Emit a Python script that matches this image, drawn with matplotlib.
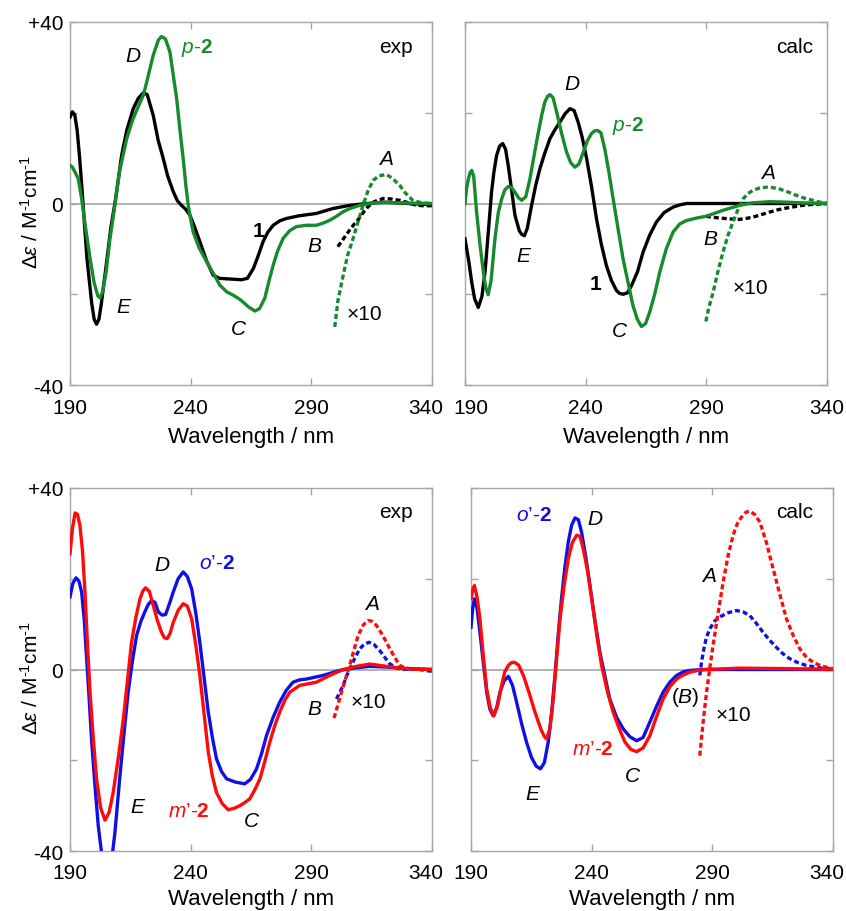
import matplotlib
matplotlib.use('Agg')
import matplotlib.pyplot as plt
from matplotlib.transforms import ScaledTranslation

plt.rcParams['font.family'] = ['Liberation Sans', 'DejaVu Sans']
plt.rcParams['mathtext.fontset'] = 'custom'
plt.rcParams['mathtext.rm'] = 'Liberation Sans'
plt.rcParams['mathtext.it'] = 'Liberation Sans:italic'
plt.rcParams['mathtext.bf'] = 'Liberation Sans:bold'

GREEN = '#168a2c'
BLACK = '#000000'
RED = '#ff0a0a'
BLUE = '#1010e6'
GRAY = '#a6a6a6'

# ---------------- data: top-left (exp, 1 and p-2) ----------------
exp1_x = [190, 191, 192, 193, 194, 195, 197, 199, 200, 201, 202, 203, 205, 207, 208.6, 209.3, 211.4, 213.5, 216.2,
          218.3, 220.4, 222, 224.5, 226.5, 228.6, 230.5, 232.8, 234.5, 236.2, 238, 239.7, 241.5, 243.8, 246.5, 249.3,
          252, 255, 258, 261, 263.5, 266, 268, 270, 272, 274.2, 277, 279.7, 285, 292, 299, 306, 313, 320, 327, 333, 340]
exp1_y = [19, 20.2, 19.5, 16, 10, 3, -12, -22, -25.5, -26.6, -25.5, -22, -13.6, -5, 0, 2.6, 10.6, 16.1, 20.9,
          23.2, 24.4, 24, 19.4, 14, 10, 6, 2.6, 0.6, -0.4, -1.3, -2.6, -5, -8.4, -12.5, -15.8,
          -16.5, -16.6, -16.7, -16.8, -16.5, -14.3, -11.5, -8.4, -6.3, -4.8, -3.8, -3.3, -2.7, -2.2, -1.1, -0.4, 0, 0.3, 0.1, -0.1, -0.2]
exp1x10_x = [301, 303, 305, 307.4, 309.5, 311.5, 313.5, 316, 319.7, 323, 326.6, 330, 333.5, 337, 340]
exp1x10_y = [-9.5, -8, -6.5, -4.8, -3.5, -2, -0.7, 0.4, 1.1, 1.0, 0.7, 0.2, -0.4, -0.5, -0.5]

expP_x = [190, 191, 192, 193.4, 194.8, 196.5, 198.3, 200, 201.5, 202.4, 203.5, 205, 206.5, 208.6, 210.5, 213.5, 216,
          218, 220.4, 221.8, 224.5, 226.6, 227.9, 229.5, 231.4, 233, 234.2, 235.5, 236.9, 238, 239, 240, 241, 243.5,
          246.6, 249.5, 252.1, 255, 257.6, 260, 261.7, 264, 266.6, 268.5, 270.7, 272.5, 274.2, 276, 278.3, 281, 283.8,
          288, 292.1, 295, 297.6, 300.5, 303.2, 306.5, 310.1, 315.6, 321, 326.6, 333, 340]
expP_y = [8.4, 8.0, 7.0, 5.5, 1.1, -5.5, -12, -17.5, -20.3, -20.8, -19.5, -15, -8, -0.4, 7, 14.3, 18.5,
          21, 23.9, 26.8, 32.7, 36, 36.8, 36.3, 33.4, 27.5, 23.1, 16.5, 9.9, 4, -0.4, -3.5, -6.2, -9.8,
          -12.8, -15.5, -18, -19.5, -20.2, -21, -21.7, -22.8, -23.7, -23.2, -20.9, -17, -13.6, -10.5, -7.7, -6, -5.1,
          -4.8, -4.8, -4.3, -3.7, -2.8, -1.8, -1, -0.4, 0.15, 0.2, 0.15, 0.05, 0]
expPx10_x = [299.7, 301, 303.2, 305, 307.3, 309.5, 311.4, 313.5, 315.6, 318, 321.1, 323.5, 326.6, 329, 332, 336, 340]
expPx10_y = [-27.2, -21.5, -15.8, -11.5, -7.7, -3.8, -0.4, 2.8, 5.1, 6.1, 6.4, 5.6, 4, 2.3, 0.7, 0.1, 0]

# ---------------- data: top-right (calc, 1 and p-2) ----------------
calc1_x = [190, 191.5, 192.8, 194, 195.5, 197, 198.3, 199.7, 201, 202, 203.1, 204.3, 205.6, 206.8, 207.9, 209.3,
           210.7, 212.5, 213.5, 214.6, 215.8, 217.6, 219.3, 221, 223, 225.2, 227.3, 229.3, 231.5, 233.5, 235.2,
           236.9, 238.6, 240.4, 242.5, 244.5, 246.5, 248.6, 250.7, 252.8, 254, 255.5, 257.3, 259, 261.5, 263.8,
           266.5, 269.3, 272.5, 276.2, 279, 281.8, 290, 340]
calc1_y = [-7.8, -12.5, -17.4, -21, -22.9, -20.5, -15.1, -6, 2.5, 7, 10.6, 12.6, 13.2, 12, 8.4, 3,
           -2.6, -6, -6.8, -7.1, -5.5, -0.4, 4, 7.6, 11, 14.3, 16.3, 17.9, 19.8, 20.9, 20.5,
           17.9, 14.5, 9.9, 3.5, -3.4, -9, -13.7, -17, -19.2, -19.8, -20, -19.7, -18.1, -15, -10.7,
           -7, -4.1, -2, -0.8, -0.3, 0, 0, 0]
calc1x10_x = [289.8, 292, 295.6, 299.5, 303.8, 306.5, 309.3, 312.5, 316.2, 319.5, 323.2, 326.5, 330, 335, 340]
calc1x10_y = [-2.8, -3.0, -3.2, -3.4, -3.5, -3.3, -3, -2.5, -1.9, -1.4, -1, -0.7, -0.4, -0.15, 0]

calcP_x = [190, 190.7, 191.4, 192.1, 192.8, 193.6, 194.8, 196.2, 197.6, 198.6, 199.6, 200.8, 202.4, 203.8, 205.2,
           206.5, 207.9, 209.3, 210.7, 212.1, 213.5, 215.2, 216.9, 218.6, 220.4, 221.8, 223.1, 224.2, 225.2, 226.5,
           228, 230, 232.1, 233.8, 235.5, 237.2, 239, 240.7, 242.4, 243.7, 244.9, 246.3, 247.9, 249.6, 251.4, 253.4,
           255.5, 257.6, 259.6, 261.4, 263.1, 264.8, 266.5, 268.6, 270.7, 273.4, 276.2, 279, 281.8, 286, 290, 296.9,
           303.8, 309.3, 316.2, 323.2, 331, 340]
calcP_y = [0, 3.5, 5.4, 6.8, 7.3, 6, -1.9, -9, -15.1, -18.5, -20.1, -17, -7.8, -2, 1,
           3, 3.75, 3.5, 2.5, 1.3, 0.7, 1.5, 5.4, 10.5, 15.7, 19.5, 22.4, 23.6, 24, 23.3,
           20.1, 15.5, 11.3, 9, 8, 8.7, 11.3, 13.8, 15.4, 16, 16.1, 15.6, 12.1, 7, 1, -5.5,
           -12.2, -17.5, -22.5, -25.5, -27.1, -26.5, -24, -20, -15.1, -10, -6.3, -4.5, -3.75, -3.2, -2.8, -1.5,
           -0.4, 0.15, 0.4, 0.3, 0.1, 0]
calcPx10_x = [289.8, 291, 292.8, 294.8, 296.9, 299, 301, 303, 305.2, 307, 309.3, 312, 314.8, 317.5, 320.3, 324,
              327.3, 330.5, 334.2, 337, 340]
calcPx10_y = [-26, -23, -19.6, -15, -10.7, -7, -4.1, -1.5, 1, 2.1, 2.9, 3.4, 3.6, 3.5, 3.2, 2.5,
              1.8, 1.2, 0.7, 0.3, 0]

# ---------------- data: bottom-left (exp, o'-2 and m'-2) ----------------
expM_x = [190, 191, 192.1, 193.1, 194.1, 195.2, 196.2, 197.2, 198.3, 199.7, 201, 202.7, 204.5, 206.2, 207.9, 210,
          212.1, 213.8, 215.5, 217.3, 219, 220.2, 221.3, 222.9, 224.5, 226.2, 227.9, 229.1, 230.3, 231.5, 232.8,
          234.8, 236.9, 238.6, 240.4, 242.1, 243.8, 245.5, 247.3, 249, 250.7, 253, 255.5, 258, 260.4, 262.5, 264.5,
          266.6, 268.7, 270.7, 272.8, 274.9, 276.9, 279, 281.1, 285.2, 292.1, 297.6, 303.2, 308.7, 314.2, 321.1,
          329.4, 340]
expM_y = [25.5, 31, 34.5, 34.2, 31.8, 26, 17.1, 6, -5, -15.5, -24.1, -30.5, -33.2, -31.5, -27.1, -19.5,
          -10.9, -2.5, 6, 11.5, 15.6, 17.3, 18, 17.2, 14.1, 10.8, 8.2, 7, 6.8, 8, 10.4,
          13, 14.5, 14, 11.2, 5.5, -1.3, -9.5, -18.2, -23.5, -27.1, -29.5, -30.9, -30.6, -30, -29.3, -28.5,
          -26.5, -24.1, -20.3, -16, -12.3, -9.4, -6.8, -5, -3.5, -2.8, -1.3, 0, 0.7, 1.2, 0.7,
          0.15, 0]
expMx10_x = [299.4, 301, 302.5, 304.2, 305.9, 307.6, 309.4, 311.5, 313.5, 315.2, 317, 319.4, 321.8, 324.2, 326.6,
             328.7, 330.8, 335, 340]
expMx10_y = [-10.7, -7.8, -5, -2, 0.9, 4.2, 7.5, 9.8, 10.8, 10.6, 9.7, 7.7, 5.3, 3, 0.9,
             0.4, 0.15, 0.05, 0]

expO_x = [190, 191.2, 192.5, 193.7, 194.8, 195.9, 196.9, 198, 199, 200.4, 201.7, 203.1, 204.5, 205.9, 207.6, 208.6,
          210.7, 212.4, 214.1, 215.9, 217.6, 219.3, 221, 222.4, 223.8, 225.2, 226.6, 228.1, 229.6, 231.2, 232.8,
          234.8, 236.9, 238.6, 240.4, 242.1, 243.8, 245.5, 247.3, 249, 250.7, 252.8, 254.9, 258.5, 262.4, 264.8,
          267.3, 269.4, 271.4, 274.2, 276.9, 279.6, 282.4, 285, 288, 294.9, 301.8, 307.4, 314.2, 322.5, 330, 340]
expO_y = [16, 19, 20.2, 19.5, 17.1, 11, 2.4, -7, -16, -26, -34.4, -40.5, -44, -44, -40.5, -36,
          -23.4, -14, -5, 2, 7.5, 10.5, 12.7, 14.3, 15.2, 14.8, 12.7, 12, 12.1, 14.5, 17.1,
          20, 21.5, 20.5, 17.8, 12.5, 6, -1.5, -9.4, -15, -19.7, -22.5, -24.1, -24.8, -25.2, -24.2,
          -21.9, -18.5, -14.6, -10.5, -7.2, -4.6, -2.8, -2.3, -2.1, -1.3, -0.2, 0.3, 0.7, 0.5, 0.2, 0]
expOx10_x = [300.4, 301.8, 303.2, 304.5, 305.9, 308, 310.1, 312, 313.9, 316, 318.3, 320.4, 322.5, 325, 328, 333.5,
             337, 340]
expOx10_y = [-6.5, -5, -3.5, -1.6, 0.15, 2.5, 4.6, 5.6, 6, 5.5, 4.2, 2.7, 1.25, 0.4, 0, 0.15,
             -0.2, -0.4]

# ---------------- data: bottom-right (calc, o'-2 and m'-2) ----------------
calcO_x = [190, 190.7, 191.4, 192.5, 193.7, 195.1, 196.5, 197.8, 199.2, 200.6, 202, 203.7, 205.5, 207.2, 208.9, 211,
           213, 215, 217, 218.8, 220.4, 222, 223.4, 224.8, 226.1, 227.5, 228.9, 230.3, 231.7, 233.1, 234.5, 235.8,
           237.5, 239.3, 241.3, 243.4, 245.5, 247.5, 250.3, 253.1, 255.8, 258.6, 261.3, 264.1, 266.8, 269.6, 272.4,
           275.2, 278, 280.7, 286.2, 340]
calcO_y = [9.3, 13.5, 15.6, 13.5, 8.2, 1.5, -5, -8.7, -10.2, -8.5, -5, -2.5, -1.5, -3.5, -7.2, -12,
           -16, -19.3, -21.3, -21.9, -20.5, -16, -9.5, -1.3, 7.5, 15.6, 22.5, 28.1, 31.8, 33.4, 33, 30.3,
           25, 18.5, 11, 3.8, -1.5, -6.5, -10.5, -13.1, -14.8, -15.7, -15, -11.6, -8.2, -5, -2.8,
           -1.3, -0.5, -0.2, 0, 0]
calcOx10_x = [284.8, 285.5, 286.2, 287.5, 289, 291, 293.1, 296.5, 300, 302.7, 305.5, 308.2, 311, 313.7, 316.5,
              319.2, 322, 325.5, 328.9, 334, 340]
calcOx10_y = [-1.3, 1.5, 3.8, 7, 9, 10.7, 11.6, 12.5, 13, 12.7, 11.9, 10.2, 8.2, 6.5, 4.9,
              3.5, 2.4, 1.5, 0.9, 0.4, 0.15]

calcM_x = [190, 190.7, 191.4, 192.5, 193.7, 195.1, 196.5, 198, 199.5, 201, 202.7, 204, 205.5, 206.7, 207.9, 209.7,
           211.7, 214, 216.5, 219, 220.3, 221.3, 222.7, 224.1, 225.5, 226.9, 228.6, 230.3, 232, 233.8, 235.2, 236.5,
           238.2, 240, 242, 244.1, 246.5, 248.9, 251.4, 253.8, 256.2, 258.6, 261.3, 264.1, 266.8, 269.6, 272.4,
           275.2, 278, 280.7, 284, 287.6, 301.4, 320, 340]
calcM_y = [15.6, 17.5, 18.5, 16, 11.2, 3, -4.3, -8.5, -10.2, -8, -3.5, -0.5, 0.9, 1.5, 1.6, 1,
           -1.3, -5, -9.4, -13.2, -14.7, -15.3, -13, -6.5, 2.5, 11.2, 18.5, 24.4, 28, 29.6, 29.3, 26.6,
           22, 15.6, 8, 0.9, -4.8, -9.4, -13, -16, -17.6, -18.1, -17.3, -14.6, -10.5, -6.5, -3.8,
           -2.1, -1.2, -0.6, -0.2, 0, 0.3, 0.2, 0.05]
calcMx10_x = [284.8, 286.2, 287.6, 289, 290.3, 292.4, 294.5, 296.5, 298.6, 300.6, 302.7, 304, 305.5, 307.5, 309.7,
              312.5, 315.2, 318, 320.7, 323.5, 326.2, 329, 331.7, 335, 340]
calcMx10_y = [-19, -11.5, -5, 0.5, 5.3, 12.5, 19.3, 25, 29.6, 32.5, 34, 34.7, 34.9, 34.2, 32.5,
              27.8, 22.2, 16.5, 11.2, 7.5, 4.6, 2.7, 1.6, 0.8, 0.15]

x_ticks = [190, 240, 290, 340]
y_ticks = [-40, -20, 0, 20, 40]
y_ticklabels = ['-40', '', '0', '', '+40']

# ---------------- figure ----------------
W, H = 846, 912
fig = plt.figure(figsize=(W / 100, H / 100), dpi=100)


def make_ax(l, t, r, b):
    return fig.add_axes([l / W, 1 - b / H, (r - l) / W, (b - t) / H])


ax_tl = make_ax(70, 23, 432, 386)
ax_tr = make_ax(465, 23, 827, 386)
ax_bl = make_ax(70, 489, 432, 852)
ax_br = make_ax(471, 489, 833, 852)

LW = 2.4
DASH = (0, (1.5, 0.9))


def shift_xticklabel(ax, idx, dx_px):
    lbl = ax.get_xticklabels()[idx]
    lbl.set_transform(lbl.get_transform() + ScaledTranslation(dx_px / 100, 0, fig.dpi_scale_trans))


def setup(ax, left, xlabelpad):
    ax.set_xlim(190, 340)
    ax.set_ylim(-40, 40)
    ax.set_xticks(x_ticks)
    ax.set_yticks(y_ticks)
    if left:
        ax.set_yticklabels(y_ticklabels)
        ax.set_ylabel('Δ$\\mathit{ε}$ / M$^{\\text{-}1}$cm$^{\\text{-}1}$', fontsize=15)
        ax.yaxis.set_label_coords(-0.078, 0.48)
    else:
        ax.set_yticklabels([])
    ax.tick_params(axis='both', direction='in', top=True, right=True, length=5, width=1,
                   color=GRAY, labelsize=15)
    ax.tick_params(axis='x', pad=9)
    ax.tick_params(axis='y', pad=5)
    for s in ax.spines.values():
        s.set_color(GRAY)
        s.set_linewidth(1.0)
    ax.axhline(0, color=GRAY, lw=1.2, zorder=1)
    ax.set_xlabel('Wavelength / nm', fontsize=16, labelpad=xlabelpad)


for ax, left, lp in [(ax_tl, True, 7), (ax_tr, False, 7), (ax_bl, True, 4), (ax_br, False, 4)]:
    setup(ax, left, lp)

shift_xticklabel(ax_tl, 3, -6)
shift_xticklabel(ax_bl, 3, -6)
shift_xticklabel(ax_tr, 0, 6)
shift_xticklabel(ax_br, 3, -6)

FS = 15


def lab(ax, x, y, s, color='black', **kw):
    ax.text(x, y, s, color=color, fontsize=FS, ha='center', va='center', **kw)


# top-left
ax_tl.plot(exp1_x, exp1_y, color=BLACK, lw=LW, zorder=3)
ax_tl.plot(expP_x, expP_y, color=GREEN, lw=LW, zorder=4)
ax_tl.plot(exp1x10_x, exp1x10_y, color=BLACK, lw=LW, ls=DASH, zorder=3)
ax_tl.plot(expPx10_x, expPx10_y, color=GREEN, lw=LW, ls=DASH, zorder=4)
lab(ax_tl, 216.2, 32.7, 'D', style='italic')
lab(ax_tl, 242.4, 34.5, '$\\mathit{p}$-$\\mathbf{2}$', color=GREEN)
lab(ax_tl, 325.2, 34.5, 'exp')
lab(ax_tl, 320.8, 10, 'A', style='italic')
lab(ax_tl, 268, -5.9, '1', weight='bold')
lab(ax_tl, 291.4, -9.2, 'B', style='italic')
lab(ax_tl, 212, -22.8, 'E', style='italic')
lab(ax_tl, 259.7, -27.5, 'C', style='italic')
lab(ax_tl, 312.1, -24.2, '×10')

# top-right
ax_tr.plot(calc1_x, calc1_y, color=BLACK, lw=LW, zorder=3)
ax_tr.plot(calcP_x, calcP_y, color=GREEN, lw=LW, zorder=4)
ax_tr.plot(calc1x10_x, calc1x10_y, color=BLACK, lw=LW, ls=DASH, zorder=3)
ax_tr.plot(calcPx10_x, calcPx10_y, color=GREEN, lw=LW, ls=DASH, zorder=4)
lab(ax_tr, 326.6, 34.5, 'calc')
lab(ax_tr, 234.4, 26.4, 'D', style='italic')
lab(ax_tr, 257.6, 17.4, '$\\mathit{p}$-$\\mathbf{2}$', color=GREEN)
lab(ax_tr, 315.6, 6.8, 'A', style='italic')
lab(ax_tr, 214.1, -11.5, 'E', style='italic')
lab(ax_tr, 244.1, -17.7, '1', weight='bold')
lab(ax_tr, 291.8, -7.8, 'B', style='italic')
lab(ax_tr, 253.8, -28, 'C', style='italic')
lab(ax_tr, 308.4, -18.5, '×10')

# bottom-left
ax_bl.plot(expO_x, expO_y, color=BLUE, lw=LW, zorder=3)
ax_bl.plot(expM_x, expM_y, color=RED, lw=LW, zorder=4)
ax_bl.plot(expOx10_x, expOx10_y, color=BLUE, lw=LW, ls=DASH, zorder=3)
ax_bl.plot(expMx10_x, expMx10_y, color=RED, lw=LW, ls=DASH, zorder=4)
lab(ax_bl, 325.2, 34.9, 'exp')
lab(ax_bl, 228, 23.1, 'D', style='italic')
lab(ax_bl, 250.7, 23.5, '$\\mathit{o}$’-$\\mathbf{2}$', color=BLUE)
lab(ax_bl, 315.3, 14.5, 'A', style='italic')
lab(ax_bl, 291.4, -8.7, 'B', style='italic')
lab(ax_bl, 313.5, -7, '×10')
lab(ax_bl, 217.9, -30.2, 'E', style='italic')
lab(ax_bl, 239.4, -31, '$\\mathit{m}$’-$\\mathbf{2}$', color=RED)
lab(ax_bl, 265.2, -33.2, 'C', style='italic')

# bottom-right
ax_br.plot(calcO_x, calcO_y, color=BLUE, lw=LW, zorder=3)
ax_br.plot(calcM_x, calcM_y, color=RED, lw=LW, zorder=4)
ax_br.plot(calcOx10_x, calcOx10_y, color=BLUE, lw=LW, ls=DASH, zorder=3)
ax_br.plot(calcMx10_x, calcMx10_y, color=RED, lw=LW, ls=DASH, zorder=4)
lab(ax_br, 216.2, 34.2, '$\\mathit{o}$’-$\\mathbf{2}$', color=BLUE)
lab(ax_br, 241.3, 33.3, 'D', style='italic')
lab(ax_br, 324.1, 34.9, 'calc')
lab(ax_br, 288.5, 20.8, 'A', style='italic')
lab(ax_br, 278.6, -5.9, '($\\mathit{B}$)')
lab(ax_br, 298.6, -10, '×10')
lab(ax_br, 240.4, -17.5, '$\\mathit{m}$’-$\\mathbf{2}$', color=RED)
lab(ax_br, 256.8, -23.4, 'C', style='italic')
lab(ax_br, 215.4, -27.3, 'E', style='italic')

fig.savefig('out.png', dpi=100)
